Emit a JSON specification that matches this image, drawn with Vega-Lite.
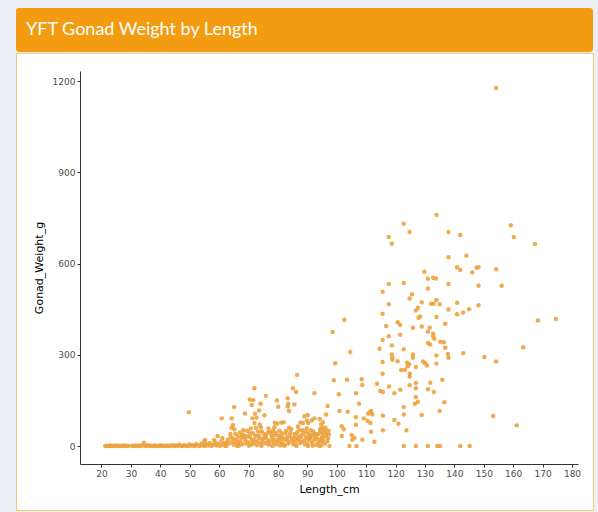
{
  "$schema": "https://vega.github.io/schema/vega-lite/v6.json",
  "background": "#ecf0f5",
  "padding": {"left": 15, "top": 8, "right": 6, "bottom": 3},
  "spacing": 0,
  "config": {"concat": {"spacing": 0}, "font": "DejaVu Sans"},
  "vconcat": [
    {
      "width": 577,
      "height": 44,
      "view": {"fill": "#f39c12", "stroke": null, "cornerRadius": 3},
      "data": {"values": [{"t": "YFT Gonad Weight by Length"}]},
      "mark": {"type": "text", "align": "left", "baseline": "middle", "dx": 10, "color": "white", "font": "Lato", "fontSize": 18},
      "encoding": {
        "text": {"field": "t"},
        "x": {"datum": 0, "scale": {"domain": [0, 1]}, "axis": null}
      }
    },
    {
      "width": 577,
      "height": 457,
      "view": {"fill": "white", "stroke": "#f5c77e", "strokeWidth": 1},
      "data": {"values": [
        {"L":133.9,"W":760},{"L":122.8,"W":731},{"L":124.8,"W":704},{"L":117.7,"W":687},{"L":118.7,"W":665},
        {"L":138.0,"W":704},{"L":142.0,"W":694},{"L":159.2,"W":726},{"L":160.2,"W":687},{"L":167.4,"W":664},
        {"L":138.0,"W":621},{"L":144.1,"W":626},{"L":140.9,"W":588},{"L":142.0,"W":579},{"L":146.1,"W":571},
        {"L":147.5,"W":586},{"L":148.2,"W":588},{"L":154.2,"W":581},{"L":129.8,"W":573},{"L":131.0,"W":550},
        {"L":132.8,"W":553},{"L":133.7,"W":551},{"L":117.7,"W":533},{"L":122.8,"W":536},{"L":138.0,"W":533},
        {"L":148.2,"W":527},{"L":156.1,"W":527},{"L":115.6,"W":507},{"L":131.0,"W":518},{"L":125.6,"W":499},
        {"L":124.8,"W":485},{"L":117.7,"W":466},{"L":128.9,"W":473},{"L":132.1,"W":468},{"L":133.0,"W":468},
        {"L":133.9,"W":480},{"L":135.0,"W":466},{"L":127.6,"W":455},{"L":126.9,"W":446},{"L":140.9,"W":471},
        {"L":138.0,"W":449},{"L":140.9,"W":433},{"L":143.0,"W":439},{"L":145.0,"W":450},{"L":148.2,"W":463},
        {"L":115.6,"W":435},{"L":128.4,"W":426},{"L":127.8,"W":422},{"L":133.9,"W":424},{"L":168.4,"W":413},
        {"L":174.5,"W":418},{"L":102.6,"W":415},{"L":120.7,"W":407},{"L":121.6,"W":398},{"L":136.9,"W":402},
        {"L":116.8,"W":395},{"L":125.9,"W":389},{"L":128.9,"W":393},{"L":131.0,"W":376},{"L":131.6,"W":389},
        {"L":132.8,"W":369},{"L":98.6,"W":375},{"L":117.7,"W":361},{"L":115.6,"W":349},{"L":121.6,"W":366},
        {"L":132.8,"W":361},{"L":133.2,"W":353},{"L":131.0,"W":339},{"L":131.8,"W":334},{"L":135.2,"W":343},
        {"L":136.4,"W":341},{"L":136.9,"W":323},{"L":114.6,"W":320},{"L":118.7,"W":331},{"L":122.8,"W":318},
        {"L":104.6,"W":309},{"L":163.4,"W":325},{"L":137.8,"W":303},{"L":138.0,"W":290},{"L":143.0,"W":305},
        {"L":133.9,"W":298},{"L":125.9,"W":301},{"L":125.9,"W":290},{"L":118.7,"W":301},{"L":118.9,"W":290},
        {"L":118.9,"W":284},{"L":150.2,"W":293},{"L":154.2,"W":278},{"L":115.6,"W":276},{"L":120.7,"W":279},
        {"L":123.9,"W":274},{"L":124.6,"W":269},{"L":124.1,"W":262},{"L":123.2,"W":251},{"L":121.9,"W":250},
        {"L":129.3,"W":278},{"L":130.0,"W":273},{"L":130.7,"W":265},{"L":133.9,"W":271},{"L":126.9,"W":260},
        {"L":99.5,"W":272},{"L":124.8,"W":238},{"L":124.8,"W":229},{"L":115.6,"W":238},{"L":86.5,"W":234},
        {"L":99.0,"W":216},{"L":103.5,"W":218},{"L":108.5,"W":220},{"L":135.9,"W":218},{"L":113.7,"W":205},
        {"L":108.7,"W":201},{"L":106.6,"W":174},{"L":131.8,"W":208},{"L":133.0,"W":178},{"L":126.9,"W":207},
        {"L":126.9,"W":190},{"L":124.8,"W":200},{"L":131.0,"W":187},{"L":117.8,"W":196},{"L":114.8,"W":181},
        {"L":115.7,"W":178},{"L":121.6,"W":185},{"L":119.6,"W":174},{"L":92.4,"W":174},{"L":100.7,"W":170},
        {"L":85.1,"W":190},{"L":86.2,"W":178},{"L":126.9,"W":161},{"L":127.6,"W":146},{"L":126.6,"W":139},
        {"L":136.6,"W":144},{"L":83.3,"W":157},{"L":83.5,"W":139},{"L":85.6,"W":137},{"L":83.8,"W":115},
        {"L":96.9,"W":132},{"L":107.6,"W":139},{"L":111.4,"W":113},{"L":112.1,"W":104},{"L":111.7,"W":115},
        {"L":110.7,"W":107},{"L":115.7,"W":100},{"L":122.8,"W":128},{"L":122.8,"W":104},{"L":128.9,"W":102},
        {"L":135.0,"W":115},{"L":153.2,"W":99},{"L":161.2,"W":68},{"L":100.9,"W":115},{"L":103.7,"W":113},
        {"L":90.1,"W":102},{"L":89.0,"W":98},{"L":92.4,"W":91},{"L":94.2,"W":89},{"L":95.3,"W":78},
        {"L":109.2,"W":91},{"L":110.5,"W":82},{"L":111.4,"W":76},{"L":119.6,"W":86},{"L":121.0,"W":73},
        {"L":101.7,"W":65},{"L":102.4,"W":55},{"L":106.5,"W":70},{"L":123.7,"W":52},{"L":111.7,"W":47},
        {"L":115.7,"W":52},{"L":106.0,"W":27},{"L":108.7,"W":21},{"L":105.3,"W":21},{"L":112.8,"W":14},
        {"L":104.3,"W":0},{"L":106.7,"W":0},{"L":122.8,"W":0},{"L":126.9,"W":0},{"L":131.0,"W":0},
        {"L":134.2,"W":0},{"L":135.1,"W":0},{"L":142.0,"W":0},{"L":145.2,"W":0},{"L":154.2,"W":1177},
        {"L":96.4,"W":104},{"L":106.5,"W":95},{"L":105.1,"W":36},{"L":101.7,"W":33},{"L":87.6,"W":77},
        {"L":89.9,"W":84},{"L":94.4,"W":55},{"L":95.1,"W":44},{"L":83.3,"W":130},{"L":88.5,"W":76},
        {"L":90.3,"W":76},{"L":91.5,"W":84},{"L":94.7,"W":71},{"L":95.3,"W":60},{"L":82.0,"W":78},
        {"L":49.7,"W":111},{"L":34.4,"W":11},{"L":55.0,"W":16},{"L":59.5,"W":33},{"L":60.9,"W":91},
        {"L":65.1,"W":128},{"L":64.3,"W":91},{"L":64.7,"W":69},{"L":64.3,"W":60},{"L":68.8,"W":107},
        {"L":72.0,"W":190},{"L":70.4,"W":153},{"L":71.6,"W":151},{"L":71.1,"W":135},{"L":74.1,"W":139},
        {"L":72.2,"W":106},{"L":72.7,"W":93},{"L":71.3,"W":91},{"L":73.6,"W":117},{"L":75.9,"W":165},
        {"L":75.4,"W":101},{"L":79.6,"W":150},{"L":80.1,"W":129},{"L":79.0,"W":77},{"L":79.7,"W":73},
        {"L":73.8,"W":71},{"L":72.0,"W":76},{"L":81.1,"W":77},{"L":55.2,"W":19},
        {"L":21.3,"W":0},{"L":21.8,"W":1},{"L":22.4,"W":0},{"L":22.9,"W":2},{"L":23.5,"W":0},{"L":24.1,"W":1},
        {"L":24.6,"W":0},{"L":25.2,"W":2},{"L":25.8,"W":0},{"L":26.3,"W":1},{"L":26.9,"W":0},{"L":27.4,"W":2},
        {"L":28.0,"W":0},{"L":28.6,"W":1},{"L":29.2,"W":0},{"L":30.4,"W":1},{"L":31.0,"W":0},{"L":31.5,"W":2},
        {"L":32.1,"W":0},{"L":32.7,"W":1},{"L":33.3,"W":0},{"L":33.8,"W":2},{"L":35.0,"W":0},{"L":35.6,"W":3},
        {"L":36.1,"W":0},{"L":36.7,"W":1},{"L":37.3,"W":0},{"L":37.9,"W":2},{"L":38.4,"W":0},{"L":39.0,"W":1},
        {"L":39.6,"W":0},{"L":40.2,"W":3},{"L":40.7,"W":0},{"L":41.3,"W":1},{"L":41.9,"W":0},{"L":42.5,"W":2},
        {"L":43.0,"W":0},{"L":43.6,"W":1},{"L":44.2,"W":3},{"L":44.8,"W":0},{"L":45.3,"W":2},{"L":45.9,"W":0},
        {"L":46.5,"W":4},{"L":47.1,"W":1},{"L":47.6,"W":0},{"L":48.2,"W":3},{"L":48.8,"W":1},{"L":49.4,"W":0},
        {"L":49.9,"W":5},{"L":50.5,"W":1},{"L":51.1,"W":3},{"L":51.7,"W":0},{"L":52.2,"W":6},{"L":52.8,"W":2},
        {"L":53.4,"W":0},{"L":54.0,"W":8},{"L":54.5,"W":3},{"L":55.1,"W":0},{"L":55.7,"W":6},{"L":56.3,"W":2},
        {"L":56.8,"W":10},{"L":57.4,"W":0},{"L":58.0,"W":5},{"L":58.6,"W":12},{"L":59.1,"W":2},{"L":59.7,"W":8},
        {"L":60.3,"W":0},{"L":60.8,"W":15},{"L":61.4,"W":4},{"L":62.0,"W":10},{"L":62.5,"W":1},{"L":63.0,"W":22},
        {"L":63.5,"W":8},{"L":64.0,"W":30},{"L":64.5,"W":15},{"L":65.0,"W":4},{"L":65.5,"W":40},{"L":66.0,"W":20},
        {"L":66.5,"W":10},{"L":67.0,"W":45},{"L":67.5,"W":28},{"L":68.0,"W":6},{"L":68.5,"W":35},{"L":69.0,"W":18},
        {"L":69.5,"W":50},{"L":70.0,"W":12},{"L":70.5,"W":30},{"L":71.0,"W":5},{"L":71.5,"W":42},{"L":72.0,"W":22},
        {"L":72.5,"W":60},{"L":73.0,"W":15},{"L":73.5,"W":35},{"L":74.0,"W":8},{"L":74.5,"W":48},{"L":75.0,"W":25},
        {"L":65.2,"W":55},{"L":66.8,"W":2},{"L":68.2,"W":52},{"L":70.8,"W":58},{"L":72.8,"W":3},{"L":74.2,"W":62},
        {"L":75.5,"W":10},{"L":76.0,"W":38},{"L":76.5,"W":20},{"L":77.0,"W":4},{"L":77.5,"W":45},{"L":78.0,"W":28},
        {"L":78.5,"W":12},{"L":79.0,"W":36},{"L":79.5,"W":6},{"L":80.0,"W":22},{"L":80.5,"W":50},{"L":81.0,"W":14},
        {"L":81.5,"W":30},{"L":82.0,"W":3},{"L":82.5,"W":42},{"L":83.0,"W":20},{"L":83.5,"W":8},{"L":84.0,"W":34},
        {"L":84.5,"W":55},{"L":85.0,"W":16},{"L":85.5,"W":28},{"L":86.0,"W":5},{"L":86.5,"W":44},{"L":87.0,"W":22},
        {"L":87.5,"W":10},{"L":88.0,"W":36},{"L":88.5,"W":52},{"L":89.0,"W":18},{"L":89.5,"W":30},{"L":90.0,"W":6},
        {"L":90.5,"W":40},{"L":91.0,"W":24},{"L":91.5,"W":12},{"L":92.0,"W":48},{"L":92.5,"W":30},{"L":93.0,"W":4},
        {"L":93.5,"W":38},{"L":94.0,"W":20},{"L":94.5,"W":56},{"L":95.0,"W":14},{"L":95.5,"W":32},{"L":96.0,"W":8},
        {"L":96.5,"W":44},{"L":97.0,"W":26},{"L":76.8,"W":58},{"L":78.8,"W":62},{"L":80.8,"W":2},{"L":83.8,"W":60},
        {"L":86.8,"W":64},{"L":89.8,"W":58},{"L":91.8,"W":1},{"L":94.8,"W":2},{"L":96.2,"W":60},{"L":97.2,"W":50},
        {"L":62.2,"W":0},{"L":66.2,"W":0},{"L":70.2,"W":1},{"L":74.4,"W":0},{"L":78.2,"W":0},{"L":82.3,"W":1},
        {"L":86.3,"W":0},{"L":90.2,"W":0},{"L":94.1,"W":0},{"L":97.5,"W":0},
        {"L":58.3,"W":20},{"L":61.1,"W":26},{"L":62.8,"W":14},{"L":63.8,"W":40},{"L":64.8,"W":24},{"L":65.8,"W":12},
        {"L":66.3,"W":32},{"L":67.2,"W":16},{"L":67.8,"W":38},{"L":68.7,"W":24},{"L":69.3,"W":8},{"L":69.8,"W":32},
        {"L":70.3,"W":44},{"L":71.2,"W":20},{"L":71.8,"W":10},{"L":72.3,"W":34},{"L":73.2,"W":48},{"L":73.7,"W":26},
        {"L":74.7,"W":16},{"L":75.2,"W":40},{"L":75.8,"W":30},{"L":76.3,"W":8},{"L":76.7,"W":46},{"L":77.3,"W":16},
        {"L":77.8,"W":36},{"L":78.3,"W":50},{"L":78.7,"W":20},{"L":79.3,"W":44},{"L":79.8,"W":14},{"L":80.3,"W":34},
        {"L":80.7,"W":26},{"L":81.3,"W":42},{"L":81.7,"W":8},{"L":82.2,"W":22},{"L":82.8,"W":50},{"L":83.2,"W":30},
        {"L":83.7,"W":14},{"L":84.2,"W":44},{"L":84.7,"W":24},{"L":85.2,"W":6},{"L":85.7,"W":40},{"L":86.2,"W":18},
        {"L":86.7,"W":30},{"L":87.2,"W":52},{"L":87.7,"W":28},{"L":88.2,"W":14},{"L":88.7,"W":42},{"L":89.2,"W":6},
        {"L":89.7,"W":46},{"L":90.3,"W":20},{"L":90.8,"W":30},{"L":91.2,"W":52},{"L":91.7,"W":36},{"L":92.2,"W":18},
        {"L":92.8,"W":40},{"L":93.2,"W":24},{"L":93.8,"W":12},{"L":94.3,"W":44},{"L":94.9,"W":28},{"L":95.3,"W":20},
        {"L":95.8,"W":50},{"L":96.3,"W":34},{"L":96.8,"W":16},{"L":97.3,"W":38}
      ]},
      "mark": {"type": "circle", "size": 20, "color": "#eda23e", "opacity": 0.9},
      "encoding": {
        "x": {
          "field": "L", "type": "quantitative",
          "scale": {"domain": [12.69, 182.04], "range": [64, 562], "nice": false, "zero": false},
          "axis": {
            "title": "Length_cm", "offset": -46, "grid": false,
            "values": [20, 30, 40, 50, 60, 70, 80, 90, 100, 110, 120, 130, 140, 150, 160, 170, 180],
            "format": "d",
            "tickSize": 3, "tickColor": "#333333", "domainColor": "#333333", "domainWidth": 1,
            "labelColor": "#4d4d4d", "labelFontSize": 9, "labelPadding": 2, "labelFlush": false,
            "titleFontSize": 11, "titleFontWeight": "normal", "titleColor": "#000000", "titlePadding": 5
          }
        },
        "y": {
          "field": "W", "type": "quantitative",
          "scale": {"domain": [-59, 1233], "range": [411, 18], "nice": false, "zero": false},
          "axis": {
            "title": "Gonad_Weight_g", "offset": -64, "grid": false,
            "values": [0, 300, 600, 900, 1200],
            "format": "d",
            "tickSize": 3, "tickColor": "#333333", "domainColor": "#333333", "domainWidth": 1,
            "labelColor": "#4d4d4d", "labelFontSize": 9, "labelPadding": 2, "labelFlush": false,
            "titleFontSize": 11, "titleFontWeight": "normal", "titleColor": "#000000", "titlePadding": 8
          }
        }
      }
    }
  ]
}
